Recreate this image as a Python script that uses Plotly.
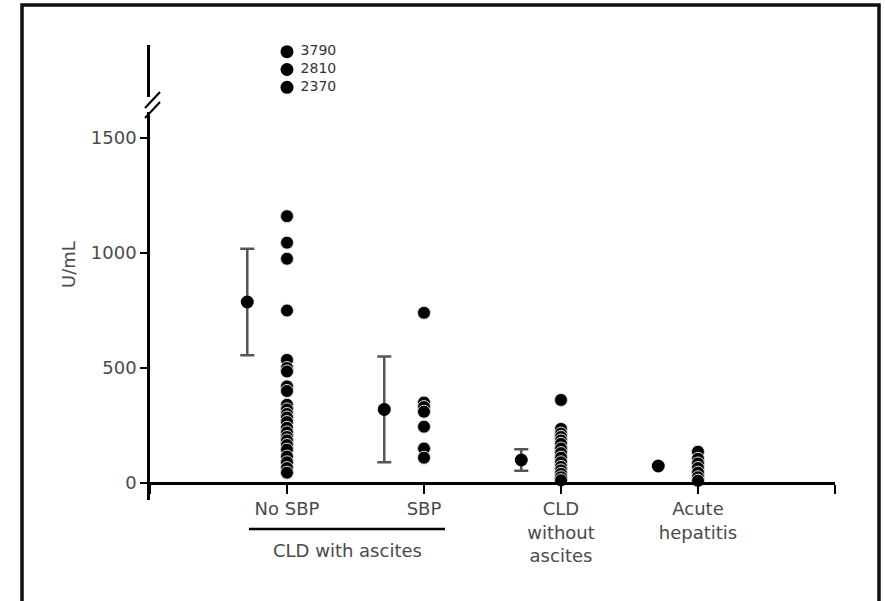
import plotly.graph_objects as go

# ---- data ----
categories = ["No SBP", "SBP", "CLD<br>without<br>ascites", "Acute<br>hepatitis"]
cat_pos = [1, 2, 3, 4]

no_sbp = [1160, 1045, 975, 750, 535, 500, 485, 420, 400, 340, 320, 300, 285,
          265, 240, 220, 200, 185, 165, 145, 115, 90, 65, 45]
sbp = [740, 350, 330, 310, 245, 150, 110]
cld_no_ascites = [361, 235, 215, 200, 185, 170, 150, 130, 110, 90, 70, 55, 40, 25, 12]
acute_hepatitis = [136, 105, 85, 65, 45, 25, 10]

outlier_values = [3790, 2810, 2370]      # No SBP, shown above the axis break
outlier_rank = [3, 2, 1]                 # stacked positions above the break

group_mean = [787, 320, 100, 74]
group_sd = [232, 230, 47, 0]
mean_offset = -0.29

groups = [no_sbp, sbp, cld_no_ascites, acute_hepatitis]

# ---- layout geometry ----
W, H = 885, 601
PL, PR, PT, PB = 150, 835, 45, 500          # plot area in pixels
ML, MT = PL, PT
PW, PH = PR - PL, PB - PT
MR, MB = W - ML - PW, H - MT - PH


def px_x(p):
    return (p - PL) / PW


def px_y(p):
    return (PB - p) / PH


def data_x(p):
    return 5 * (p - PL) / PW


# main axis: 0 at pixel 483, 0.23 px per unit
scale = 0.23
y_lo = (483 - PB) / scale
y_hi = (483 - 112) / scale

fig = go.Figure()

dot_line = dict(color="rgba(225,225,225,1)", width=1)

xs, ys = [], []
for pos, vals in zip(cat_pos, groups):
    xs += [pos] * len(vals)
    ys += vals
fig.add_trace(go.Scatter(
    x=xs, y=ys, mode="markers",
    marker=dict(color="black", size=13, line=dot_line),
    showlegend=False, hoverinfo="y"))

err = [s if s > 0 else None for s in group_sd]
fig.add_trace(go.Scatter(
    x=[p + mean_offset for p in cat_pos[:3]], y=group_mean[:3], mode="markers",
    marker=dict(color="black", size=13),
    error_y=dict(type="data", array=err[:3], visible=True,
                 color="#555555", thickness=2.5, width=7),
    showlegend=False))
fig.add_trace(go.Scatter(
    x=[cat_pos[3] + mean_offset], y=[group_mean[3]], mode="markers",
    marker=dict(color="black", size=13), showlegend=False))

fig.add_trace(go.Scatter(
    x=[cat_pos[0]] * len(outlier_values), y=outlier_rank, yaxis="y2",
    mode="markers+text", text=["\u00a0" + str(v) for v in outlier_values],
    textposition="middle right",
    textfont=dict(family="DejaVu Sans, sans-serif", size=14, color="#333333"),
    marker=dict(color="black", size=13),
    showlegend=False))

axis_font = dict(family="DejaVu Sans, sans-serif", size=18, color="#4a4a4a")

fig.update_layout(
    width=W, height=H,
    margin=dict(l=ML, r=MR, t=MT, b=MB, pad=0),
    paper_bgcolor="white", plot_bgcolor="white",
    xaxis=dict(range=[0, 5], tickvals=[0] + cat_pos + [5],
               ticktext=[""] + categories + [""],
               showgrid=False, zeroline=False,
               showline=True, linecolor="black", linewidth=2.5,
               ticks="outside", ticklen=9, tickwidth=2, tickcolor="black",
               tickfont=axis_font, anchor="free", position=px_y(483),
               fixedrange=True),
    yaxis=dict(domain=[0, px_y(112)], range=[y_lo, y_hi],
               tickvals=[0, 500, 1000, 1500], showgrid=False, zeroline=False,
               showline=True, linecolor="black", linewidth=2.5,
               ticks="outside", ticklen=7, tickwidth=2, tickcolor="black",
               tickfont=axis_font, ticklabelstandoff=0),
    yaxis2=dict(domain=[px_y(97), 1], range=[1 - (97 - 87.3) / 17.8, 3 + (51.7 - 45) / 17.8],
                showgrid=False, zeroline=False, showticklabels=False, ticks="",
                showline=True, linecolor="black", linewidth=2.5, anchor="x"),
)

# axis-break slashes
for (x0, y0, x1, y1) in [(145, 108, 160, 92), (145, 118, 160, 102)]:
    fig.add_shape(type="line", xref="paper", yref="paper",
                  x0=px_x(x0), y0=px_y(y0), x1=px_x(x1), y1=px_y(y1),
                  line=dict(color="black", width=2))

# group bracket under the two CLD-with-ascites columns
fig.add_shape(type="line", xref="x", yref="paper",
              x0=data_x(249), x1=data_x(445), y0=px_y(529), y1=px_y(529),
              line=dict(color="black", width=2.5))
fig.add_annotation(x=data_x(347), xref="x", y=px_y(550), yref="paper",
                   xanchor="center", yanchor="middle",
                   text="CLD with ascites", showarrow=False, font=axis_font)

# y-axis title
fig.add_annotation(x=px_x(68), y=px_y(265), xref="paper", yref="paper",
                   xanchor="center", yanchor="middle",
                   text="U/mL", textangle=-90, showarrow=False, font=axis_font)

# outer frame (open at the bottom, as in the cropped original)
fig.add_shape(type="rect", xref="paper", yref="paper",
              x0=px_x(22), x1=px_x(879), y0=px_y(640), y1=px_y(5),
              line=dict(color="#111111", width=3.5), layer="below")

fig.write_html(
    "out.html",
    config={"displayModeBar": False},
    post_script="document.body.style.margin='0';document.body.style.overflow='hidden';",
)
